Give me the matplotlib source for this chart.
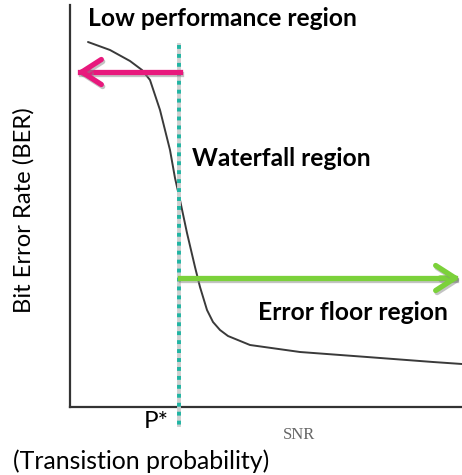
import matplotlib
matplotlib.use("Agg")
import matplotlib.pyplot as plt
import matplotlib.patheffects as pe

# Schematic BER curve (arbitrary units: SNR -> BER level)
snr = [18, 40, 60, 72, 80, 85, 90, 95, 100, 105, 110, 117, 125, 130, 137, 143,
       150, 158, 180, 230, 297, 363, 392]
ber = [365, 357, 346, 337, 327, 312, 297, 277, 257, 229, 207, 174, 140, 120, 97,
       85, 77, 71, 62, 55, 50, 45, 43]
p_star = 109          # threshold position (P*)
low_arrow_y = 335     # pink arrow level
floor_arrow_y = 129   # green arrow level

W, H = 462, 475
fig = plt.figure(figsize=(W / 100, H / 100), dpi=100)
ax = fig.add_axes([70 / W, (H - 407) / H, (W - 70) / W, (407 - 5) / H])
ax.set_xlim(0, 392)
ax.set_ylim(0, 402)
for s in ["top", "right"]:
    ax.spines[s].set_visible(False)
for s in ["left", "bottom"]:
    ax.spines[s].set_color("#333333")
    ax.spines[s].set_linewidth(1.6)
ax.set_xticks([])
ax.set_yticks([])

# curve
ax.plot(snr, ber, color="#3a3a3a", lw=1.4, solid_capstyle="round",
        solid_joinstyle="round")

# P* dotted line with grey shadow
ax.plot([p_star, p_star], [362, -18], color="#cfcfcf", lw=2.8, clip_on=False,
        zorder=3)
ax.plot([p_star, p_star], [362, -18], color="#1fb5a3", lw=2.8,
        linestyle=(0, (1, 1.3)), clip_on=False, zorder=4)

def shadow():
    return [pe.SimpleLineShadow(offset=(1, -1.5), shadow_color="#888888", alpha=0.5),
            pe.Normal()]

# pink arrow (low performance)
ax.plot([p_star + 1, 10], [low_arrow_y, low_arrow_y], color="#e8197d", lw=3.8,
        path_effects=shadow(), zorder=5, clip_on=False)
ax.annotate("", xy=(7, low_arrow_y), xytext=(20, low_arrow_y),
            arrowprops=dict(arrowstyle="->,head_length=0.7,head_width=0.45",
                            color="#e8197d", lw=3.8, mutation_scale=20,
                            shrinkA=0, shrinkB=0, path_effects=shadow()),
            annotation_clip=False, zorder=5)

# green arrow (error floor)
ax.plot([p_star + 1, 385], [floor_arrow_y, floor_arrow_y], color="#7bd13a", lw=3.8,
        path_effects=shadow(), zorder=5, clip_on=False)
ax.annotate("", xy=(390, floor_arrow_y), xytext=(370, floor_arrow_y),
            arrowprops=dict(arrowstyle="->,head_length=0.7,head_width=0.45",
                            color="#7bd13a", lw=3.8, mutation_scale=20,
                            shrinkA=0, shrinkB=0, path_effects=shadow()),
            annotation_clip=False, zorder=5)

def ftext(x, y, s, **kw):
    fig.text(x / W, 1 - y / H, s, **kw)

bold = dict(family="Lato", fontweight="bold", fontsize=17.7, color="black",
            va="center", ha="left")
ftext(88, 19, "Low performance region", **bold)
ftext(192, 158, "Waterfall region", **bold)
ftext(258, 312, "Error floor region", **bold)

ftext(24, 210, "Bit Error Rate (BER)", family="Lato", fontsize=17.2,
      rotation=90, va="center", ha="center")
ftext(156, 421, "P*", family="Lato", fontsize=17.5, va="center", ha="center")
ftext(299, 435, "SNR", family="Liberation Serif", fontsize=12, color="#666666",
      va="center", ha="center")
ftext(13, 461, "(Transistion probability)", family="Lato", fontsize=17.9,
      va="center", ha="left")

fig.savefig("out.png", dpi=100)
